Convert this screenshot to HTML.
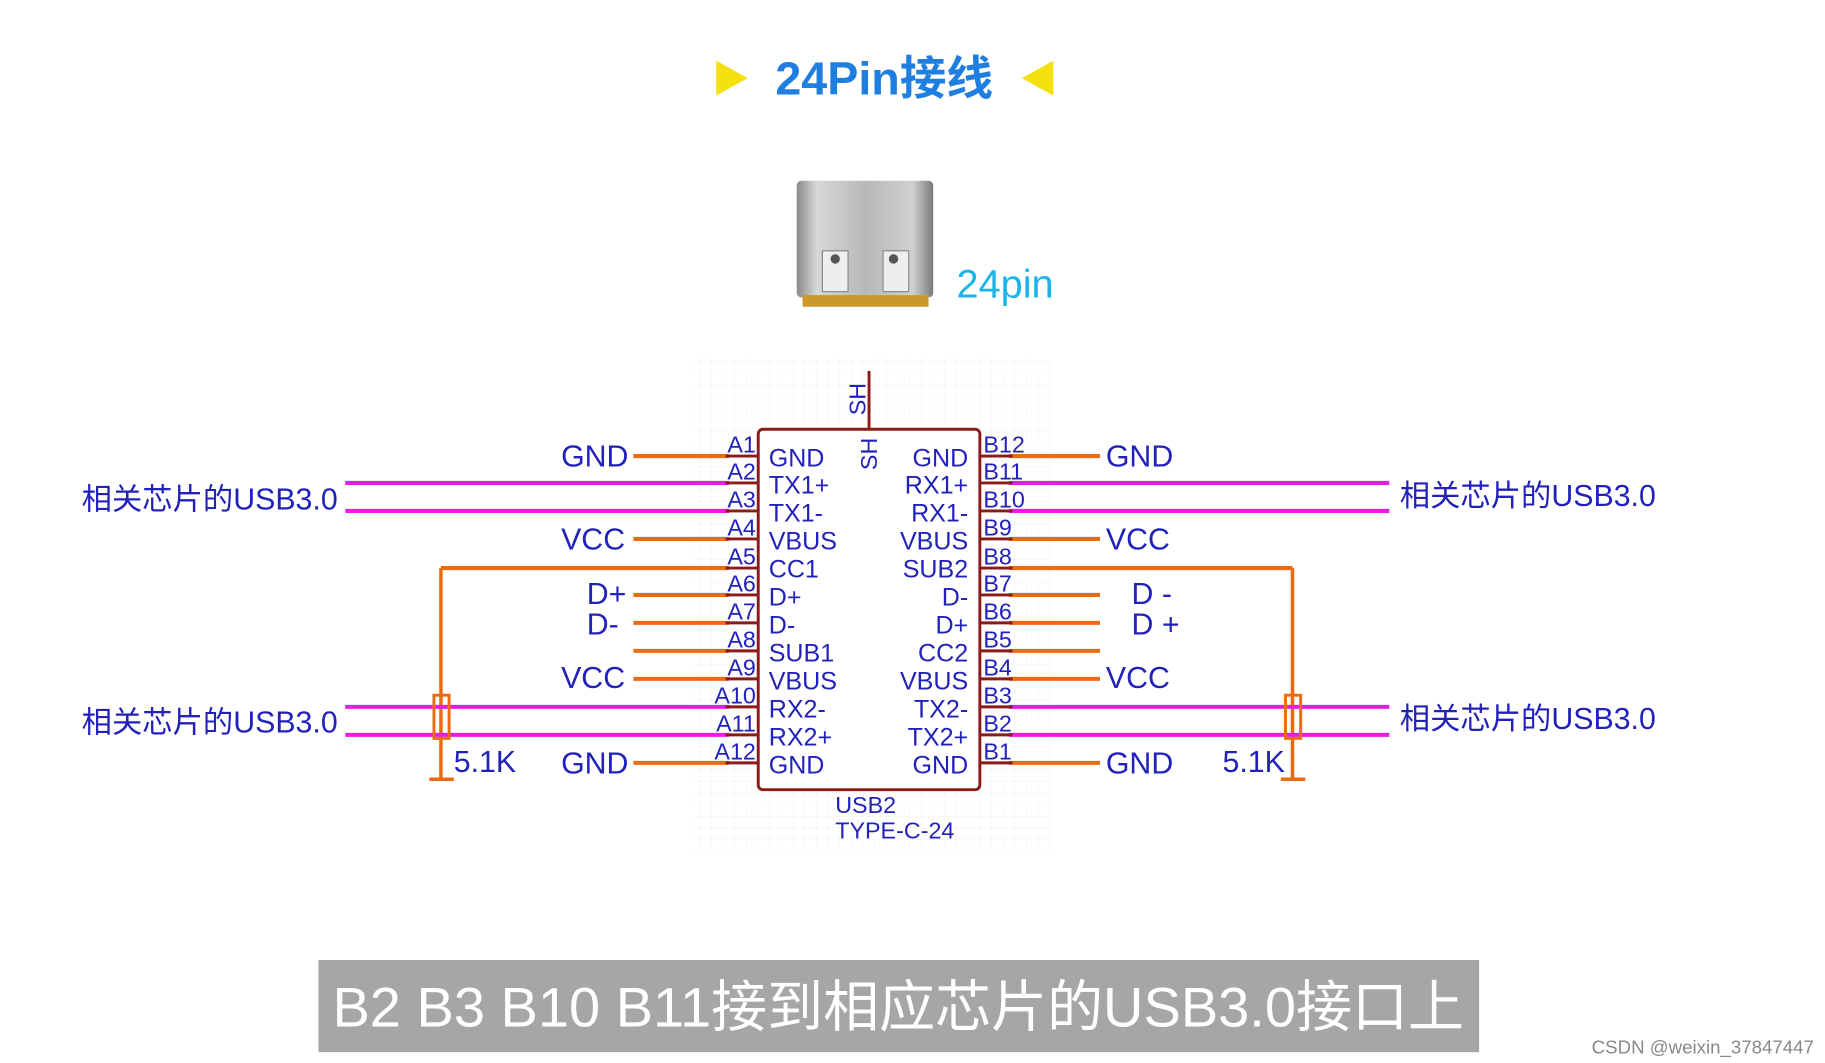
<!DOCTYPE html>
<html><head><meta charset="utf-8"><style>html,body{margin:0;padding:0;background:#fff}svg{display:block}</style></head>
<body>
<svg width="1825" height="1063" viewBox="0 0 1564.5 911.3" preserveAspectRatio="none" xmlns="http://www.w3.org/2000/svg" font-family="Liberation Sans, Noto Sans CJK SC, sans-serif">
<defs>
<pattern id="g" width="10" height="10" patternUnits="userSpaceOnUse"><path d="M10 0V10H0" fill="none" stroke="#eee" stroke-width="0.6"/></pattern>
<linearGradient id="m" x1="0" x2="1"><stop offset="0" stop-color="#8a8a8a"/><stop offset="0.15" stop-color="#d8d8d8"/><stop offset="0.5" stop-color="#b8b8b8"/><stop offset="0.85" stop-color="#d0d0d0"/><stop offset="1" stop-color="#7a7a7a"/></linearGradient>
</defs>
<polygon points="614,52 641,67 614,82" fill="#f5e010"/>
<polygon points="903,52 876,67 903,82" fill="#f5e010"/>
<text x="758" y="81" text-anchor="middle" font-size="40" font-weight="bold" fill="#1e7fe0">24Pin接线</text>
<rect x="683" y="155" width="117" height="100" rx="4" fill="url(#m)"/>
<rect x="705" y="215" width="22" height="35" fill="#eee" stroke="#888"/>
<rect x="757" y="215" width="22" height="35" fill="#eee" stroke="#888"/>
<circle cx="716" cy="222" r="4" fill="#555"/><circle cx="766" cy="222" r="4" fill="#555"/>
<rect x="688" y="253" width="108" height="10" fill="#c99a2a"/>
<text x="820" y="255" font-size="34" fill="#1ab4ea">24pin</text>
<rect x="593" y="307" width="310" height="423" fill="url(#g)"/>
<line x1="745" y1="318" x2="745" y2="368" stroke="#8b1a1a" stroke-width="2.5"/>
<text transform="translate(742,356) rotate(-90)" font-size="20" fill="#2222bb">SH</text>
<g stroke-width="3.5" fill="none">
<g stroke="#ee6a10">
<line x1="543" y1="391" x2="625" y2="391"/><line x1="543" y1="462" x2="625" y2="462"/>
<line x1="378" y1="487" x2="625" y2="487"/><line x1="543" y1="510" x2="625" y2="510"/>
<line x1="543" y1="534" x2="625" y2="534"/><line x1="543" y1="558" x2="625" y2="558"/>
<line x1="543" y1="582" x2="625" y2="582"/><line x1="543" y1="654" x2="625" y2="654"/>
<line x1="865" y1="391" x2="943" y2="391"/><line x1="865" y1="462" x2="943" y2="462"/>
<line x1="865" y1="487" x2="1108" y2="487"/><line x1="865" y1="510" x2="943" y2="510"/>
<line x1="865" y1="534" x2="943" y2="534"/><line x1="865" y1="558" x2="943" y2="558"/>
<line x1="865" y1="582" x2="943" y2="582"/><line x1="865" y1="654" x2="943" y2="654"/>
<line x1="378" y1="487" x2="378" y2="668" stroke-width="3"/><line x1="368" y1="668" x2="389" y2="668" stroke-width="3"/>
<line x1="1108" y1="487" x2="1108" y2="668" stroke-width="3"/><line x1="1098" y1="668" x2="1119" y2="668" stroke-width="3"/>
</g>
<g stroke="#e81ce8">
<line x1="296" y1="414" x2="625" y2="414"/><line x1="296" y1="438" x2="625" y2="438"/>
<line x1="296" y1="606" x2="625" y2="606"/><line x1="296" y1="630" x2="625" y2="630"/>
<line x1="865" y1="414" x2="1191" y2="414"/><line x1="865" y1="438" x2="1191" y2="438"/>
<line x1="865" y1="606" x2="1191" y2="606"/><line x1="865" y1="630" x2="1191" y2="630"/>
</g>
<rect x="372" y="596" width="13" height="37" stroke="#ee6a10" stroke-width="2.5" fill="none"/>
<rect x="1102" y="596" width="13" height="37" stroke="#ee6a10" stroke-width="2.5" fill="none"/>
<g stroke="#8b1a1a" stroke-width="2.5">
<path d="M622 391H650M622 414H650M622 438H650M622 462H650M622 487H650M622 510H650M622 534H650M622 558H650M622 582H650M622 606H650M622 630H650M622 654H650"/>
<path d="M840 391H868M840 414H868M840 438H868M840 462H868M840 487H868M840 510H868M840 534H868M840 558H868M840 582H868M840 606H868M840 630H868M840 654H868"/>
</g>
<rect x="650" y="368" width="190" height="309" rx="4" stroke="#8b1a1a" stroke-width="2.5" fill="#fff"/>
</g>
<text transform="translate(752,403) rotate(-90)" font-size="20" fill="#2222bb">SH</text>
<g font-size="20" fill="#2222bb">
<g text-anchor="end">
<text x="648" y="388">A1</text><text x="648" y="411">A2</text><text x="648" y="435">A3</text><text x="648" y="459">A4</text><text x="648" y="484">A5</text><text x="648" y="507">A6</text><text x="648" y="531">A7</text><text x="648" y="555">A8</text><text x="648" y="579">A9</text><text x="648" y="603">A10</text><text x="648" y="627">A11</text><text x="648" y="651">A12</text>
</g>
<g font-size="21.5">
<g text-anchor="end">
<text x="830" y="400">GND</text><text x="830" y="423">RX1+</text><text x="830" y="447">RX1-</text><text x="830" y="471">VBUS</text><text x="830" y="495">SUB2</text><text x="830" y="519">D-</text><text x="830" y="543">D+</text><text x="830" y="567">CC2</text><text x="830" y="591">VBUS</text><text x="830" y="615">TX2-</text><text x="830" y="639">TX2+</text><text x="830" y="663">GND</text>
</g>
<text x="659" y="400">GND</text><text x="659" y="423">TX1+</text><text x="659" y="447">TX1-</text><text x="659" y="471">VBUS</text><text x="659" y="495">CC1</text><text x="659" y="519">D+</text><text x="659" y="543">D-</text><text x="659" y="567">SUB1</text><text x="659" y="591">VBUS</text><text x="659" y="615">RX2-</text><text x="659" y="639">RX2+</text><text x="659" y="663">GND</text>
</g>
<text x="843" y="388">B12</text><text x="843" y="411">B11</text><text x="843" y="435">B10</text><text x="843" y="459">B9</text><text x="843" y="484">B8</text><text x="843" y="507">B7</text><text x="843" y="531">B6</text><text x="843" y="555">B5</text><text x="843" y="579">B4</text><text x="843" y="603">B3</text><text x="843" y="627">B2</text><text x="843" y="651">B1</text>
<text x="716" y="697">USB2</text><text x="716" y="719">TYPE-C-24</text>
</g>
<g font-size="26" fill="#2222bb">
<text x="481" y="400">GND</text><text x="481" y="471">VCC</text><text x="503" y="518">D+</text><text x="503" y="544">D-</text><text x="481" y="590">VCC</text><text x="481" y="663">GND</text>
<text x="389" y="662">5.1K</text>
<text x="948" y="400">GND</text><text x="948" y="471">VCC</text><text x="970" y="518">D -</text><text x="970" y="544">D +</text><text x="948" y="590">VCC</text><text x="948" y="663">GND</text>
<text x="1048" y="662">5.1K</text>
<text x="70" y="437">相关芯片的USB3.0</text><text x="70" y="628">相关芯片的USB3.0</text>
<text x="1200" y="434">相关芯片的USB3.0</text><text x="1200" y="625">相关芯片的USB3.0</text>
</g>
<rect x="273" y="823" width="995" height="79" fill="#a6a6a6"/>
<text x="770" y="880" text-anchor="middle" font-size="48" fill="#fff">B2 B3 B10 B11接到相应芯片的USB3.0接口上</text>
<text x="1555" y="903" text-anchor="end" font-size="16" fill="#888">CSDN @weixin_37847447</text>
</svg>
</body></html>
